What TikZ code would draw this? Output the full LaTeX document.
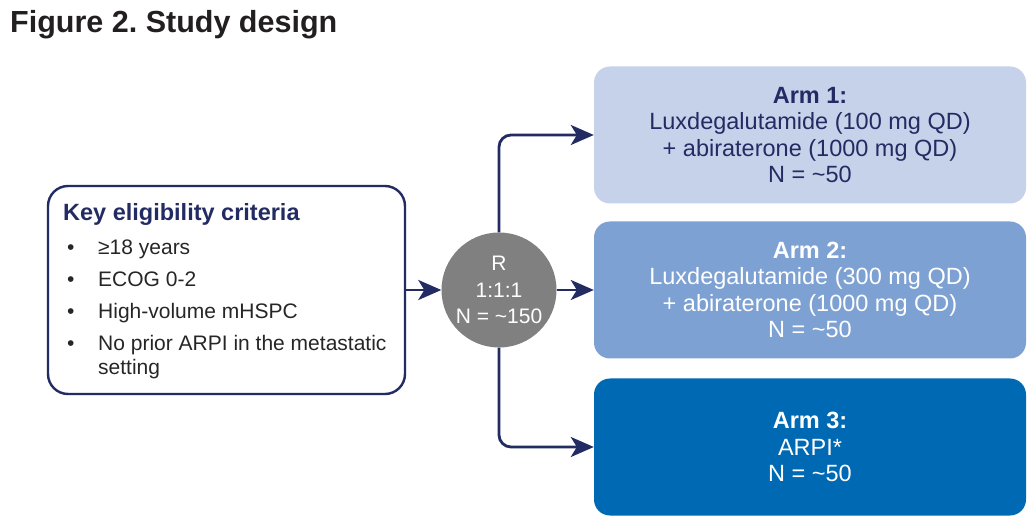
\documentclass[tikz,border=0pt]{standalone}
\usepackage{fontspec}
\setmainfont{Liberation Sans}
\usetikzlibrary{arrows.meta}
\frenchspacing
\definecolor{navy}{HTML}{232B63}
\definecolor{armA}{HTML}{C6D2EA}
\definecolor{armB}{HTML}{7DA1D3}
\definecolor{armC}{HTML}{0069B4}
\definecolor{circ}{HTML}{808080}
\definecolor{ttl}{HTML}{231F20}
\tikzset{
  armbox/.style={rounded corners=16pt, minimum width=432pt, minimum height=137pt, inner sep=0pt, align=center,
     font=\fontsize{23.5}{26.5}\selectfont},
  critbox/.style={draw=navy, line width=2.4pt, rounded corners=20pt, minimum width=357pt, minimum height=208pt, inner sep=0pt},
  bul/.style={anchor=base west, inner sep=0pt, font=\fontsize{21}{24}\selectfont, text=black!85},
  arr/.style={draw=navy, line width=2.8pt, -{Stealth[length=23pt,width=20pt,inset=6pt]}, rounded corners=12pt},
}
\begin{document}
\begin{tikzpicture}[x=1pt,y=-1pt]
\useasboundingbox (0,0) rectangle (1036,526);
\node[anchor=base west, inner sep=0pt, font=\fontsize{30.5}{34}\selectfont\bfseries, text=ttl] (title) at (10,33) {Figure 2. Study design};
% criteria box
\node[critbox] (crit) at (226.5,290) {};
\node[anchor=base west, inner sep=0pt, font=\fontsize{23.5}{26}\selectfont\bfseries, text=navy] (keyt) at (63,221) {Key eligibility criteria};
\node[bul] (b1) at (67,255) {•};
\node[bul] (t1) at (98,255) {≥18 years};
\node[bul] (b2) at (67,287) {•};
\node[bul] (t2) at (98,287) {ECOG 0-2};
\node[bul] (b3) at (67,319) {•};
\node[bul] (t3) at (98,319) {High-volume mHSPC};
\node[bul] (b4) at (67,351) {•};
\node[bul] (t4) at (98,351) {No prior ARPI in the metastatic};
\node[bul] (t5) at (98,374) {setting};
% randomisation
\node[circle, fill=circ, minimum size=115pt, inner sep=0pt, align=center, text=white, font=\fontsize{21}{26.5}\selectfont] (R) at (499,290) {R\\1:1:1\\N = \textasciitilde150};
% arms
\node[armbox, fill=armA, text=navy] (arm1) at (810,135) {\textbf{Arm 1:}\\Luxdegalutamide (100 mg QD)\\+ abiraterone (1000 mg QD)\\N = \textasciitilde50};
\node[armbox, fill=armB, text=white] (arm2) at (810,290) {\textbf{Arm 2:}\\Luxdegalutamide (300 mg QD)\\+ abiraterone (1000 mg QD)\\N = \textasciitilde50};
\node[armbox, fill=armC, text=white] (arm3) at (810,447) {\textbf{Arm 3:}\\ARPI*\\N = \textasciitilde50};
% connectors
\draw[arr] (crit.east) -- (R.west);
\draw[arr] (R.east) -- (arm2.west);
\draw[arr] (R.north) |- (arm1.west);
\draw[arr] (R.south) |- (arm3.west);
\end{tikzpicture}
\end{document}
